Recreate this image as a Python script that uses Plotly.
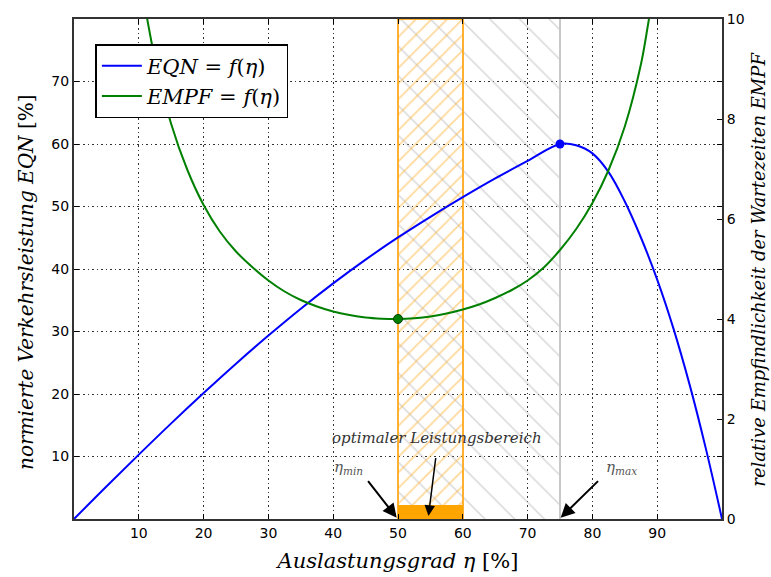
import plotly.graph_objects as go

# ---- data ----
eta_eqn = [0, 5, 10, 15, 20, 25, 30, 35, 40, 45, 50, 55, 60, 65, 70, 75,
           77.5, 80, 82.5, 85, 87.5, 90, 92.5, 95, 97.5, 100]
eqn = [0, 5.2, 10.3, 15.3, 20.15, 24.85, 29.35, 33.65, 37.7, 41.5, 45.05, 48.35, 51.5, 54.5, 57.3, 60.0,
       59.8, 58.5, 55.5, 50.8, 45.0, 38.3, 30.5, 21.5, 11.3, 0]

eta_empf = [10.5, 11.3, 12.5, 15, 17.5, 20, 22.5, 25, 27.5, 30, 32.5, 35, 37.5, 40, 42.5, 45, 47.5, 50,
            52.5, 55, 57.5, 60, 62.5, 65, 67.5, 70, 72.5, 75, 77.5, 80, 82.5, 85, 87.5, 88.6, 89.5]
empf = [10.6, 10.0, 9.2, 7.9, 6.98, 6.28, 5.75, 5.35, 5.04, 4.77, 4.55, 4.38, 4.25, 4.15, 4.08, 4.03, 4.007, 4.0,
        4.015, 4.05, 4.11, 4.19, 4.29, 4.42, 4.575, 4.77, 5.03, 5.38, 5.8, 6.32, 6.98, 7.85, 9.1, 9.9, 10.6]

eta_min, eta_max = 50, 75
eqn_max_point = (75, 60)
empf_min_point = (50, 4.0)
opt_range = [50, 60]          # optimaler Leistungsbereich
grey_range = [50, 75]         # eta_min .. eta_max
opt_bar_height = 2.3

x_ticks = [10, 20, 30, 40, 50, 60, 70, 80, 90]
y_ticks = [10, 20, 30, 40, 50, 60, 70]
y2_ticks = [0, 2, 4, 6, 8, 10]

SERIF = "DejaVu Serif, serif"
SANS = "DejaVu Sans, sans-serif"

fig = go.Figure()

# grey hatched region eta_min .. eta_max
fig.add_trace(go.Bar(
    x=[(grey_range[0] + grey_range[1]) / 2], y=[80], width=[grey_range[1] - grey_range[0]],
    marker=dict(color="rgba(255,255,255,0)", line=dict(width=0),
                pattern=dict(shape="\\", fgcolor="#b0b0b0", bgcolor="rgba(255,255,255,0)",
                             size=21, solidity=0.07, fillmode="overlay")),
    showlegend=False, hoverinfo="skip"))
# orange hatched optimal range
fig.add_trace(go.Bar(
    x=[(opt_range[0] + opt_range[1]) / 2], y=[80], width=[opt_range[1] - opt_range[0]],
    marker=dict(color="rgba(255,255,255,0)", line=dict(width=2, color="#ffb030"),
                pattern=dict(shape="/", fgcolor="#ffb030", bgcolor="rgba(255,255,255,0)",
                             size=11, solidity=0.15, fillmode="overlay")),
    showlegend=False, hoverinfo="skip"))
# solid orange bar
fig.add_trace(go.Bar(
    x=[(opt_range[0] + opt_range[1]) / 2], y=[opt_bar_height], width=[opt_range[1] - opt_range[0]],
    marker=dict(color="#ffa500", line=dict(width=0)),
    showlegend=False, hoverinfo="skip"))
# vertical line at eta_max
fig.add_trace(go.Scatter(x=[eta_max, eta_max], y=[0, 80], mode="lines",
                         line=dict(color="#c8c8c8", width=2), showlegend=False, hoverinfo="skip"))

fig.add_trace(go.Scatter(x=eta_eqn, y=eqn, mode="lines",
                         line=dict(color="#0000ff", width=2, shape="spline", smoothing=1),
                         name="<i>EQN</i> = <i>f</i>(<i>η</i>)"))
fig.add_trace(go.Scatter(x=eta_empf, y=empf, mode="lines",
                         line=dict(color="#008000", width=2, shape="spline", smoothing=1),
                         name="<i>EMPF</i> = <i>f</i>(<i>η</i>)", yaxis="y2"))
fig.add_trace(go.Scatter(x=[eqn_max_point[0]], y=[eqn_max_point[1]], mode="markers",
                         marker=dict(color="#0000ff", size=9), showlegend=False))
fig.add_trace(go.Scatter(x=[empf_min_point[0]], y=[empf_min_point[1]], mode="markers",
                         marker=dict(color="#008000", size=9, line=dict(color="#004000", width=1)),
                         showlegend=False, yaxis="y2"))

# annotations
fig.add_annotation(x=56.0, y=13.0, text="<i>optimaler Leistungsbereich</i>", showarrow=False,
                   font=dict(family=SERIF, size=15, color="#333333"))
fig.add_annotation(x=54.7, y=0.5, ax=55.85, ay=10.0, axref="x", ayref="y", text="",
                   showarrow=True, arrowhead=2, arrowsize=1.4, arrowwidth=1.5, arrowcolor="black")
fig.add_annotation(x=42.3, y=8.3, text="<i>η<sub>min</sub></i>", showarrow=False,
                   font=dict(family=SERIF, size=15, color="#555555"))
fig.add_annotation(x=eta_min - 0.2, y=0.2, ax=45.2, ay=6.3, axref="x", ayref="y", text="",
                   showarrow=True, arrowhead=2, arrowsize=1.4, arrowwidth=2, arrowcolor="black")
fig.add_annotation(x=84.5, y=8.3, text="<i>η<sub>max</sub></i>", showarrow=False,
                   font=dict(family=SERIF, size=15, color="#555555"))
fig.add_annotation(x=eta_max + 0.1, y=0.2, ax=81.1, ay=6.3, axref="x", ayref="y", text="",
                   showarrow=True, arrowhead=2, arrowsize=1.4, arrowwidth=2, arrowcolor="black")

# axis titles as annotations (positions)
fig.add_annotation(xref="paper", yref="paper", x=-0.075, y=0.473, textangle=-90,
                   text="<i>normierte Verkehrsleistung EQN</i> [%]", showarrow=False,
                   xanchor="center", yanchor="middle",
                   font=dict(family=SERIF, size=20, color="black"))
fig.add_annotation(xref="paper", yref="paper", x=1.055, y=0.5, textangle=-90,
                   text="<i>relative Empfindlichkeit der Wartezeiten EMPF</i>", showarrow=False,
                   xanchor="center", yanchor="middle",
                   font=dict(family=SERIF, size=18, color="black"))

axis_common = dict(showline=True, linecolor="#333333", linewidth=2, ticks="inside", ticklen=5,
                   tickcolor="black", tickfont=dict(family=SANS, size=14, color="black"),
                   zeroline=False, automargin=False)

fig.update_layout(
    width=771, height=577,
    margin=dict(l=74, r=49, t=19, b=58),
    plot_bgcolor="white", paper_bgcolor="white",
    barmode="overlay", bargap=0,
    xaxis=dict(range=[0, 100], tickvals=x_ticks, mirror="ticks", showgrid=True,
               gridcolor="#333333", griddash="1.5px,3px", gridwidth=1,
               title=dict(text="<i>Auslastungsgrad η</i> [%]", font=dict(family=SERIF, size=21, color="black"),
                          standoff=14),
               **axis_common),
    yaxis=dict(range=[0, 80], tickvals=y_ticks, mirror="ticks", showgrid=True,
               gridcolor="#333333", griddash="1.5px,3px", gridwidth=1,
               **axis_common),
    yaxis2=dict(range=[0, 10], tickvals=y2_ticks, overlaying="y", side="right", showgrid=False,
                **axis_common),
    legend=dict(x=0.033, y=0.95, xanchor="left", yanchor="top", bgcolor="white",
                bordercolor="black", borderwidth=1.5, font=dict(family=SERIF, size=21, color="black"),
                tracegroupgap=0, itemwidth=40),
)

fig.write_html("out.html")
